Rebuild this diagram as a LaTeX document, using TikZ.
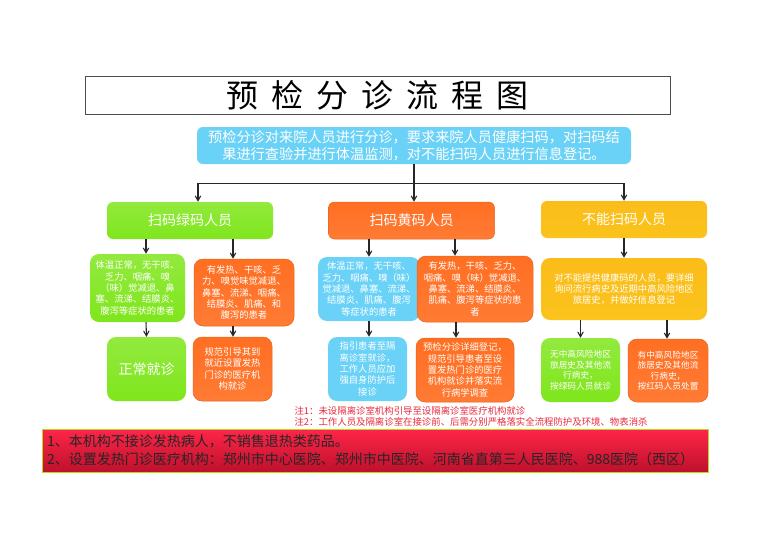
\documentclass[tikz,border=0pt]{standalone}
\usepackage{fontspec}
\setmainfont{Noto Sans CJK SC}
\usetikzlibrary{arrows}

\begin{document}
\begin{tikzpicture}[x=1pt,y=-1pt,->,>=angle 60,line width=1.1pt,draw=black!85]
        \tikzstyle{every node}=[align=center,inner sep=0pt,text=white]
        \tikzstyle{round box}=[rounded corners=9pt,draw=none,line width=.5pt]
        \tikzstyle{green box}=[round box,top color=greenbox!85!white,bottom color=greenbox]
        \tikzstyle{orange box}=[round box,draw=orangebox!90!black,top color=orangebox,bottom color=orangebox!92!white]
        \tikzstyle{blue box}=[round box,fill=bluebox]
        \tikzstyle{amber box}=[round box,top color=amberbox!90!orange,bottom color=amberbox]
        \tikzstyle{head}=[rounded corners=6pt,font=\fontsize{14}{17}\selectfont,minimum width=166pt,minimum height=37pt]
        \tikzstyle{small}=[font=\fontsize{9.3}{11.3}\selectfont]
        \tikzstyle{tiny}=[font=\fontsize{8.7}{10.5}\selectfont]
        \definecolor{greenbox}{HTML}{7FE61C}
        \definecolor{orangebox}{HTML}{FF6F22}
        \definecolor{bluebox}{HTML}{6BD2F7}
        \definecolor{amberbox}{HTML}{FBC31C}
        \definecolor{notered}{HTML}{E8283C}
        \definecolor{warntop}{HTML}{FF2648}
        \definecolor{warnbot}{HTML}{BE102C}
        \useasboundingbox (0,0) rectangle (777,549);

        % title and intro
        \node[draw=black!70,-,line width=.8pt,minimum width=585pt,minimum height=38pt,text=black,font=\fontsize{32}{36}\selectfont] (title) at (377.5,95) {预\hspace{13pt}检\hspace{13pt}分\hspace{13pt}诊\hspace{13pt}流\hspace{13pt}程\hspace{13pt}图};
        \node[blue box,rounded corners=6pt,minimum width=434pt,minimum height=37pt,font=\fontsize{14.2}{17}\selectfont] (intro) at (414,145.5) {预检分诊对来院人员进行分诊，要求来院人员健康扫码，对扫码结\\果进行查验并进行体温监测，对不能扫码人员进行信息登记。};

        % row of heads
        \node[green box,head]  (scanGreen)  at (190,220.5) {扫码绿码人员};
        \node[orange box,head] (scanYellow) at (411.5,220.5) {扫码黄码人员};
        \node[amber box,head]  (noScan)     at (624,219.5) {不能扫码人员};

        % second row
        \node[green box,small,minimum width=95pt,minimum height=68pt]  (greenOk)    at (137.5,288) {体温正常，无干咳、\\乏力、咽痛、嗅\\（味）觉减退、鼻\\塞、流涕、结膜炎、\\腹泻等症状的患者};
        \node[orange box,small,minimum width=100pt,minimum height=67pt] (greenFever) at (244,292.5) {有发热、干咳、乏\\力、嗅觉味觉减退、\\鼻塞、流涕、咽痛、\\结膜炎、肌痛、和\\腹泻的患者};
        \node[blue box,small,minimum width=102pt,minimum height=64pt]  (yellowOk)   at (369,289) {体温正常，无干咳、\\乏力、咽痛、嗅（味）\\觉减退、鼻塞、流涕、\\结膜炎、肌痛、腹泻\\等症状的患者};
        \node[orange box,small,minimum width=116pt,minimum height=66pt] (yellowFever) at (475,289) {有发热，干咳、乏力、\\咽痛、嗅（味）觉减退、\\鼻塞、流涕、结膜炎、\\肌痛、腹泻等症状的患\\者};
        \node[amber box,small,minimum width=166pt,minimum height=62pt] (noScanAsk)  at (624,289) {对不能提供健康码的人员，要详细\\询问流行病史及近期中高风险地区\\旅居史，并做好信息登记};

        % third row
        \node[green box,minimum width=79pt,minimum height=64pt,font=\fontsize{14}{17}\selectfont] (normal) at (146.5,369) {正常就诊};
        \node[orange box,small,minimum width=79pt,minimum height=64pt] (guideA) at (232.5,369) {规范引导其到\\就近设置发热\\门诊的医疗机\\构就诊};
        \node[blue box,small,minimum width=79pt,minimum height=64pt]   (guideB) at (367.5,369) {指引患者至隔\\离诊室就诊，\\工作人员应加\\强自身防护后\\接诊};
        \node[orange box,small,minimum width=98pt,minimum height=64pt] (guideC) at (465,370) {预检分诊详细登记，\\规范引导患者至设\\置发热门诊的医疗\\机构就诊并落实流\\行病学调查};
        \node[green box,tiny,minimum width=79pt,minimum height=64pt]  (noRisk) at (580.5,370) {无中高风险地区\\旅居史及其他流\\行病史，\\按绿码人员就诊};
        \node[orange box,tiny,minimum width=80pt,minimum height=63pt] (hasRisk) at (668,370.5) {有中高风险地区\\旅居史及其他流\\行病史，\\按红码人员处置};

        % notes
        \node[text=notered,align=left,anchor=west,font=\fontsize{9.4}{11.3}\selectfont] (notes) at (294,416.5) {注1：未设隔离诊室机构引导至设隔离诊室医疗机构就诊\\注2：工作人员及隔离诊室在接诊前、后需分别严格落实全流程防护及环境、物表消杀};
        \node[draw=yellow!70!green,line width=.6pt,top color=warntop,bottom color=warnbot,text=black!85,align=left,text width=656pt,inner xsep=5pt,minimum height=43pt,font=\fontsize{14}{18.5}\selectfont] (warn) at (375,450.5) {1、本机构不接诊发热病人，不销售退热类药品。\\2、设置发热门诊医疗机构：郑州市中心医院、郑州市中医院、河南省直第三人民医院、988医院（西区）};

        % connectors
        \draw (intro.south) -- ++(0,19) -| ([xshift=8pt]scanGreen.north);
        \draw (intro.south) -- ++(0,19) -| (noScan.north);
        \draw (intro.south) -- ([xshift=2.5pt]scanYellow.north);

        \path ([xshift=-44pt]scanGreen.south)    edge ([xshift=8.5pt]greenOk.north)
              ([xshift=43pt]scanGreen.south)     edge ([xshift=-11pt]greenFever.north)
              ([xshift=8.5pt]greenOk.south)      edge (normal.north)
              ([xshift=-11pt]greenFever.south)   edge ([xshift=.5pt]guideA.north)
              ([xshift=-42.5pt]scanYellow.south) edge (yellowOk.north)
              ([xshift=43.5pt]scanYellow.south)  edge ([xshift=-20pt]yellowFever.north)
              (yellowOk.south)                   edge ([xshift=1.5pt]guideB.north)
              ([xshift=-19pt]yellowFever.south)  edge ([xshift=-9pt]guideC.north)
              (noScan.south)                     edge (noScanAsk.north)
              ([xshift=-43.5pt]noScanAsk.south)  edge (noRisk.north)
              ([xshift=43pt]noScanAsk.south)     edge ([xshift=-1pt]hasRisk.north);
\end{tikzpicture}
\end{document}
